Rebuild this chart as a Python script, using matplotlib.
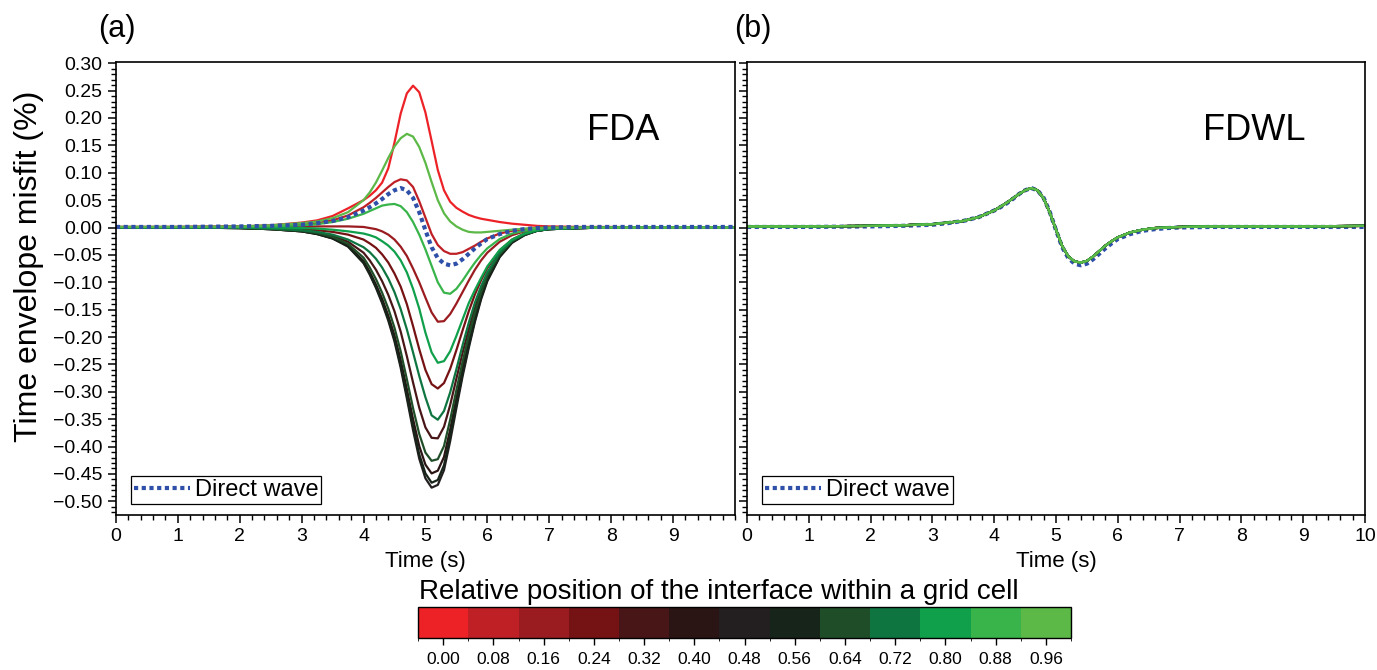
import numpy as np
import matplotlib
matplotlib.use('Agg')
import matplotlib.pyplot as plt
from matplotlib.colors import ListedColormap, BoundaryNorm
from matplotlib.cm import ScalarMappable
from matplotlib.ticker import MultipleLocator, FuncFormatter

plt.rcParams['font.family'] = ['Liberation Sans', 'DejaVu Sans']

# relative interface positions and their colours
positions = [0.00, 0.08, 0.16, 0.24, 0.32, 0.40, 0.48, 0.56, 0.64, 0.72, 0.80, 0.88, 0.96]
colors = ['#EC2227', '#BE2026', '#9A1C20', '#751214', '#491617', '#2A1414', '#231F20',
          '#172419', '#1F4D27', '#0E7541', '#109F4B', '#38B44A', '#5CB947']

# time samples (s)
t = [0, 1, 2, 2.5, 3, 3.25, 3.5, 3.75,
     4.0, 4.1, 4.2, 4.3, 4.4, 4.5, 4.6, 4.7, 4.8, 4.9, 5.0,
     5.1, 5.2, 5.3, 5.4, 5.5, 5.6, 5.7, 5.8, 5.9, 6.0,
     6.2, 6.4, 6.6, 6.8, 7.0, 7.5, 8, 9, 10]

# FDA misfit (%) for each interface position
fda_000 = [0.001, 0.001, 0.002, 0.004, 0.009, 0.013, 0.021, 0.035,
           0.050, 0.058, 0.068, 0.082, 0.108, 0.155, 0.208, 0.245, 0.259, 0.247, 0.210,
           0.158, 0.105, 0.068, 0.047, 0.036, 0.029, 0.023, 0.019, 0.016, 0.014,
           0.010, 0.007, 0.005, 0.003, 0.002, 0.001, 0.001, 0.000, 0.000]
fda_008 = [0.001, 0.001, 0.002, 0.003, 0.005, 0.008, 0.013, 0.022,
           0.037, 0.045, 0.054, 0.064, 0.074, 0.083, 0.088, 0.086, 0.074, 0.048, 0.018,
           -0.012, -0.032, -0.043, -0.048, -0.048, -0.045, -0.039, -0.033, -0.026, -0.020,
           -0.011, -0.006, -0.003, -0.001, 0.000, 0.000, 0.000, 0.000, 0.000]
fda_016 = [0.000, 0.000, 0.000, 0.001, 0.001, 0.002, 0.002, 0.002,
           0.001, -0.001, -0.003, -0.007, -0.013, -0.022, -0.035, -0.052, -0.075, -0.100, -0.128,
           -0.155, -0.172, -0.171, -0.158, -0.139, -0.118, -0.097, -0.077, -0.060, -0.046,
           -0.026, -0.014, -0.007, -0.004, -0.002, -0.001, 0.000, 0.000, 0.000]
fda_024 = [0.000, 0.000, 0.000, -0.001, -0.003, -0.005, -0.008, -0.013,
           -0.022, -0.029, -0.037, -0.049, -0.064, -0.084, -0.108, -0.140, -0.180, -0.222, -0.260,
           -0.286, -0.294, -0.284, -0.258, -0.224, -0.188, -0.153, -0.122, -0.096, -0.074,
           -0.042, -0.022, -0.011, -0.005, -0.002, -0.001, 0.000, 0.000, 0.000]
fda_032 = [0.000, 0.000, -0.001, -0.002, -0.006, -0.009, -0.015, -0.026,
           -0.046, -0.060, -0.077, -0.098, -0.123, -0.153, -0.190, -0.235, -0.283, -0.329, -0.365,
           -0.384, -0.385, -0.364, -0.324, -0.276, -0.229, -0.186, -0.146, -0.112, -0.085,
           -0.047, -0.025, -0.012, -0.006, -0.003, -0.001, 0.000, 0.000, 0.000]
fda_040 = [0.000, 0.000, -0.001, -0.003, -0.007, -0.011, -0.019, -0.033,
           -0.061, -0.081, -0.104, -0.130, -0.161, -0.197, -0.242, -0.295, -0.350, -0.399, -0.433,
           -0.449, -0.444, -0.419, -0.369, -0.312, -0.257, -0.208, -0.163, -0.124, -0.093,
           -0.051, -0.026, -0.013, -0.006, -0.003, -0.001, 0.000, 0.000, 0.000]
fda_048 = [0.000, 0.000, -0.001, -0.003, -0.007, -0.012, -0.020, -0.035,
           -0.065, -0.086, -0.110, -0.138, -0.170, -0.208, -0.256, -0.312, -0.370, -0.422, -0.458,
           -0.475, -0.470, -0.443, -0.390, -0.330, -0.272, -0.220, -0.172, -0.131, -0.098,
           -0.054, -0.028, -0.014, -0.006, -0.003, -0.001, 0.000, 0.000, 0.000]
fda_056 = [0.000, 0.000, -0.001, -0.003, -0.007, -0.012, -0.020, -0.034,
           -0.064, -0.084, -0.108, -0.135, -0.167, -0.204, -0.251, -0.306, -0.363, -0.414, -0.449,
           -0.466, -0.461, -0.434, -0.382, -0.323, -0.267, -0.216, -0.169, -0.128, -0.096,
           -0.053, -0.027, -0.014, -0.006, -0.003, -0.001, 0.000, 0.000, 0.000]
fda_064 = [0.000, 0.000, -0.001, -0.003, -0.006, -0.010, -0.017, -0.030,
           -0.055, -0.073, -0.094, -0.119, -0.148, -0.183, -0.226, -0.277, -0.330, -0.377, -0.411,
           -0.426, -0.423, -0.399, -0.351, -0.297, -0.245, -0.198, -0.155, -0.118, -0.088,
           -0.049, -0.025, -0.013, -0.006, -0.003, -0.001, 0.000, 0.000, 0.000]
fda_072 = [0.000, 0.000, 0.000, -0.002, -0.005, -0.008, -0.013, -0.022,
           -0.036, -0.045, -0.057, -0.073, -0.093, -0.118, -0.149, -0.186, -0.228, -0.271, -0.310,
           -0.343, -0.351, -0.335, -0.301, -0.259, -0.215, -0.174, -0.137, -0.107, -0.082,
           -0.046, -0.024, -0.012, -0.006, -0.003, -0.001, 0.000, 0.000, 0.000]
fda_080 = [0.000, 0.000, 0.000, 0.000, -0.001, -0.002, -0.004, -0.007,
           -0.011, -0.014, -0.018, -0.025, -0.033, -0.044, -0.060, -0.082, -0.112, -0.148, -0.192,
           -0.228, -0.247, -0.244, -0.226, -0.198, -0.168, -0.138, -0.114, -0.092, -0.071,
           -0.041, -0.022, -0.011, -0.005, -0.002, -0.001, 0.000, 0.000, 0.000]
fda_088 = [0.001, 0.001, 0.001, 0.002, 0.004, 0.006, 0.010, 0.016,
           0.025, 0.030, 0.035, 0.040, 0.042, 0.043, 0.039, 0.028, 0.010, -0.013, -0.040,
           -0.070, -0.100, -0.119, -0.121, -0.112, -0.097, -0.080, -0.064, -0.050, -0.038,
           -0.021, -0.011, -0.006, -0.003, -0.001, 0.000, 0.000, 0.000, 0.000]
fda_096 = [0.001, 0.001, 0.002, 0.004, 0.008, 0.011, 0.017, 0.028,
           0.050, 0.064, 0.082, 0.104, 0.127, 0.148, 0.163, 0.171, 0.166, 0.147, 0.118,
           0.083, 0.050, 0.026, 0.011, 0.002, -0.004, -0.008, -0.009, -0.009, -0.008,
           -0.006, -0.004, -0.002, -0.001, 0.000, 0.000, 0.000, 0.000, 0.000]

# FDWL curves all collapse onto one trace
fdwl = [0.002, 0.002, 0.003, 0.004, 0.006, 0.009, 0.012, 0.019,
        0.031, 0.038, 0.045, 0.053, 0.061, 0.068, 0.072, 0.068, 0.053, 0.027, -0.004,
        -0.034, -0.053, -0.062, -0.064, -0.061, -0.053, -0.043, -0.033, -0.025, -0.018,
        -0.009, -0.004, -0.001, 0.000, 0.001, 0.002, 0.002, 0.002, 0.003]

# direct wave reference
direct = [0.001, 0.001, 0.002, 0.003, 0.005, 0.008, 0.012, 0.019,
          0.031, 0.037, 0.044, 0.052, 0.061, 0.068, 0.072, 0.068, 0.054, 0.028, -0.005,
          -0.036, -0.056, -0.066, -0.069, -0.066, -0.058, -0.048, -0.038, -0.029, -0.021,
          -0.012, -0.006, -0.003, -0.001, 0.000, 0.001, 0.001, 0.001, 0.001]

fda = [fda_000, fda_008, fda_016, fda_024, fda_032, fda_040, fda_048,
       fda_056, fda_064, fda_072, fda_080, fda_088, fda_096]


def fmt_y(v, pos):
    if abs(v) < 1e-9:
        v = 0.0
    return ('%.2f' % v).replace('-', '\u2212')


fig = plt.figure(figsize=(13.77, 6.70), dpi=100)
ax1 = fig.add_axes([0.0842, 0.2313, 0.4495, 0.676])
ax2 = fig.add_axes([0.5425, 0.2313, 0.4488, 0.676])

blue = '#2F50A8'
for c, y in zip(colors, fda):
    ax1.plot(t, y, color=c, lw=1.6)
ax1.plot(t, direct, color=blue, lw=3.0, linestyle=(0, (1, 0.85)),
         dash_capstyle='butt', label='Direct wave')

ax2.plot(t, direct, color=blue, lw=3.0, linestyle=(0, (1, 0.85)),
         dash_capstyle='butt', label='Direct wave')
for c in colors:
    ax2.plot(t, fdwl, color=c, lw=1.6)

for ax, name in [(ax1, 'FDA'), (ax2, 'FDWL')]:
    ax.set_xlim(0, 10)
    ax.set_ylim(-0.525, 0.302)
    ax.xaxis.set_major_locator(MultipleLocator(1))
    ax.xaxis.set_minor_locator(MultipleLocator(0.2))
    ax.yaxis.set_major_locator(MultipleLocator(0.05))
    ax.yaxis.set_minor_locator(MultipleLocator(0.01))
    ax.tick_params(which='major', direction='out', length=6, width=1.1, labelsize=14)
    ax.tick_params(which='minor', direction='out', length=3.5, width=1.0)
    for s in ax.spines.values():
        s.set_linewidth(1.2)
    ax.set_xlabel('Time (s)', fontsize=16, labelpad=4)
    ax.text(0.82, 0.85, name, transform=ax.transAxes, fontsize=26, ha='center', va='center')
    leg = ax.legend(loc='lower left', bbox_to_anchor=(0.024, 0.024), borderaxespad=0,
                    fontsize=17, handlelength=2.4, handletextpad=0.2, borderpad=0.12,
                    fancybox=False, framealpha=1)
    leg.get_frame().set_edgecolor('black')
    leg.get_frame().set_linewidth(0.9)

ax1.set_xticks(range(0, 10))
ax1.yaxis.set_major_formatter(FuncFormatter(fmt_y))
ax1.set_ylabel('Time envelope misfit (%)', fontsize=23)
ax1.yaxis.set_label_coords(-0.117, 0.55)
ax2.set_xticks(range(0, 11))
ax2.tick_params(labelleft=False)

fig.text(117 / 1377, 1 - 29 / 670, '(a)', fontsize=22, ha='center', va='center')
fig.text(753 / 1377, 1 - 29 / 670, '(b)', fontsize=22, ha='center', va='center')

# discrete colour bar
cax = fig.add_axes([0.3036, 0.0478, 0.4742, 0.0463])
cmap = ListedColormap(colors)
bounds = np.arange(-0.04, 1.0 + 1e-9, 0.08)
norm = BoundaryNorm(bounds, cmap.N)
cb = fig.colorbar(ScalarMappable(norm=norm, cmap=cmap), cax=cax,
                  orientation='horizontal', ticks=positions)
cb.ax.set_xticklabels(['%.2f' % p for p in positions])
cb.ax.tick_params(labelsize=12.5, length=5, width=1.0, pad=5)
cb.outline.set_linewidth(1.0)
fig.text(719 / 1377, 1 - 592 / 670, 'Relative position of the interface within a grid cell',
         fontsize=20, ha='center', va='center')

fig.savefig('out.png', dpi=100)
